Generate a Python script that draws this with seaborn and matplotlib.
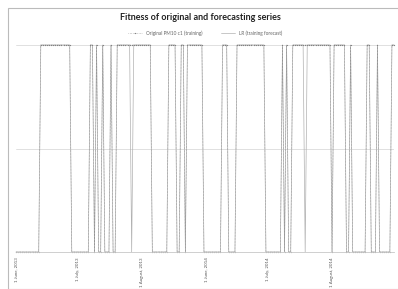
import numpy as np
import pandas as pd
import seaborn as sns
import matplotlib.pyplot as plt
from matplotlib.patches import Rectangle

# run lengths of the 0/1 states (alternating, starting at 0)
orig_runs = [12, 15, 9, 2, 1, 1, 2, 1, 3, 1, 2, 17, 8, 4, 2, 2, 1, 8, 9, 3,
             4, 14, 8, 1, 1, 1, 2, 19, 1, 6, 2, 1, 7, 2, 3, 1, 6, 2]
fcst_runs = [12, 15, 9, 2, 1, 1, 2, 1, 3, 1, 2, 7, 1, 9, 8, 4, 2, 2, 1, 8, 9, 3,
             4, 14, 8, 1, 1, 1, 2, 6, 1, 12, 1, 6, 2, 1, 7, 2, 3, 1, 6, 2]
months = ['2013-06-01', '2013-07-01', '2013-08-01', '2014-06-01', '2014-07-01', '2014-08-01']
tick_labels = ['1 June, 2013', '1 July, 2013', '1 August, 2013',
               '1 June, 2014', '1 July, 2014', '1 August, 2014']


def expand(runs):
    vals = []
    for i, n in enumerate(runs):
        vals += [i % 2] * n
    return vals


dates = list(pd.date_range('2013-06-01', '2013-08-31')) + list(pd.date_range('2014-06-01', '2014-08-31'))
df = pd.DataFrame({'day': np.arange(len(dates)),
                   'original': expand(orig_runs),
                   'forecast': expand(fcst_runs)})
tick_pos = [dates.index(pd.Timestamp(m)) for m in months]

sns.set_style('white')
plt.rcParams['font.family'] = ['Lato', 'DejaVu Sans']

fig = plt.figure(figsize=(3.98, 2.89), dpi=100)
fig.patches.append(Rectangle((8 / 398, 0), 1, 1 - 8 / 289, transform=fig.transFigure,
                             fill=False, edgecolor='#bbbbbb', linewidth=0.8))
ax = fig.add_axes([16 / 398, 1 - 252 / 289, 378 / 398, 207 / 289])

sns.lineplot(data=df, x='day', y='forecast', ax=ax, color='#b0b0b0', linewidth=0.5,
             label='LR (training forecast)')
sns.lineplot(data=df, x='day', y='original', ax=ax, color='#808080', linewidth=0.4,
             linestyle=':', marker='o', markersize=0.9, markeredgewidth=0,
             label='Original PM10 c1 (training)')
for l in ax.lines:
    l.set_clip_on(False)

ax.set_xlim(0, len(dates) - 1)
ax.set_ylim(0, 1)
ax.set_yticks([0, 0.5, 1])
ax.set_yticklabels([])
ax.tick_params(axis='y', length=0)
ax.yaxis.grid(True, color='#dadada', linewidth=0.6)
for s in ['left', 'right', 'top']:
    ax.spines[s].set_visible(False)
ax.spines['bottom'].set_color('#c8c8c8')
ax.spines['bottom'].set_linewidth(0.6)
ax.set_xticks(tick_pos)
ax.set_xticklabels(tick_labels, rotation=90, fontsize=3.2, color='#555555')
ax.tick_params(axis='x', length=0, pad=4)
ax.set_xlabel('')
ax.set_ylabel('')

h, lab = ax.get_legend_handles_labels()
ax.legend(h[::-1], lab[::-1], loc='center', bbox_to_anchor=(0.5, 1 + 12 / 207), ncol=2,
          frameon=False, fontsize=3.4, handlelength=3, columnspacing=4, labelcolor='#666666')
fig.text(200 / 398, 1 - 18 / 289, 'Fitness of original and forecasting series',
         ha='center', va='center', fontsize=6.5, fontweight='bold', color='#222222')

fig.savefig('out.png', dpi=100)
